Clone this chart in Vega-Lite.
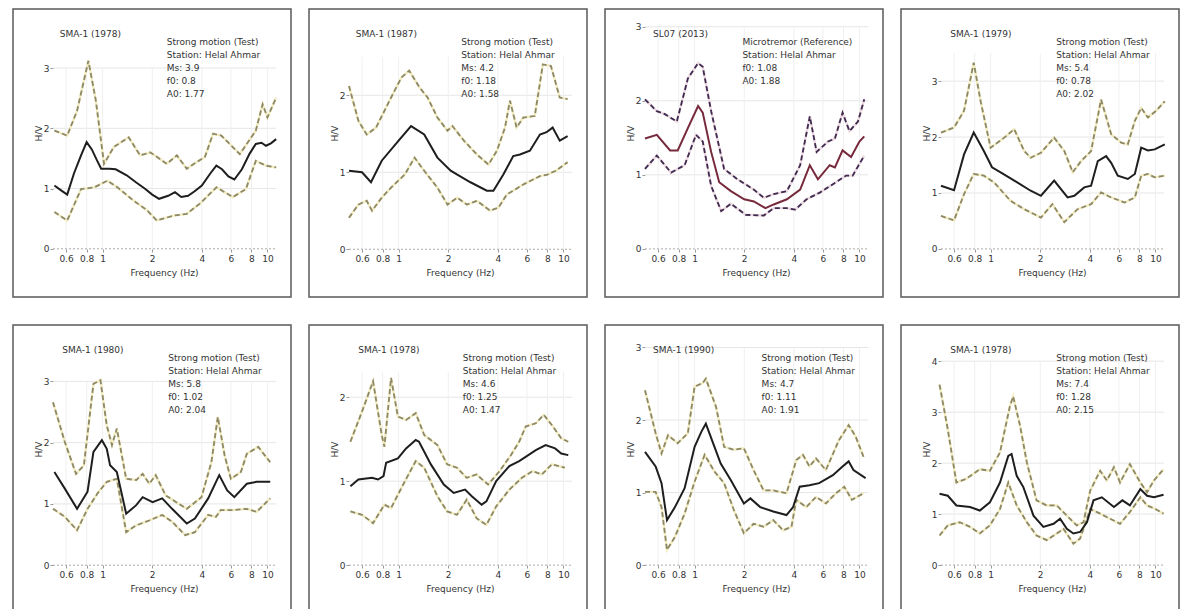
{
"$schema":"https://vega.github.io/schema/vega-lite/v6.json",
"background":"white",
"padding":{"left":12,"top":8,"right":0,"bottom":0},
"autosize":{"type":"pad"},
"config":{
 "font":"DejaVu Sans",
 "view":{"stroke":"#5a5a5a","strokeWidth":1.5},
 "axis":{"domain":false,"grid":false,"tickSize":3,"tickColor":"#999","labelFontSize":9,"labelColor":"#333","titleFontSize":9,"titleFontWeight":"normal","titleColor":"#333","labelOverlap":false,"labelFlush":false},
 "axisX":{"offset":-48,"labelPadding":2,"titlePadding":5,"titleX":151},
 "axisY":{"offset":-40,"labelPadding":1,"titlePadding":0,"titleY":124},
 "text":{"fontSize":9,"color":"#333","align":"left"}
},
"columns":4,
"spacing":{"row":26,"column":16},
"datasets":{
"p1":[
{"f":0.51,"v":1.05,"s":"m"},{"f":0.56,"v":0.97,"s":"m"},{"f":0.61,"v":0.90,"s":"m"},{"f":0.67,"v":1.25,"s":"m"},{"f":0.74,"v":1.55,"s":"m"},{"f":0.80,"v":1.77,"s":"m"},{"f":0.86,"v":1.65,"s":"m"},{"f":0.92,"v":1.48,"s":"m"},{"f":0.98,"v":1.33,"s":"m"},{"f":1.1,"v":1.33,"s":"m"},{"f":1.2,"v":1.32,"s":"m"},{"f":1.4,"v":1.22,"s":"m"},{"f":1.6,"v":1.10,"s":"m"},{"f":1.8,"v":1.00,"s":"m"},{"f":2.0,"v":0.90,"s":"m"},{"f":2.2,"v":0.83,"s":"m"},{"f":2.5,"v":0.88,"s":"m"},{"f":2.75,"v":0.94,"s":"m"},{"f":3.0,"v":0.86,"s":"m"},{"f":3.3,"v":0.88,"s":"m"},{"f":3.6,"v":0.95,"s":"m"},{"f":4.0,"v":1.05,"s":"m"},{"f":4.5,"v":1.25,"s":"m"},{"f":4.9,"v":1.38,"s":"m"},{"f":5.3,"v":1.32,"s":"m"},{"f":5.8,"v":1.20,"s":"m"},{"f":6.3,"v":1.15,"s":"m"},{"f":7.0,"v":1.32,"s":"m"},{"f":7.8,"v":1.58,"s":"m"},{"f":8.5,"v":1.74,"s":"m"},{"f":9.2,"v":1.76,"s":"m"},{"f":9.8,"v":1.71,"s":"m"},{"f":10.5,"v":1.75,"s":"m"},{"f":11.3,"v":1.82,"s":"m"},
{"f":0.51,"v":1.96,"s":"u"},{"f":0.61,"v":1.88,"s":"u"},{"f":0.70,"v":2.29,"s":"u"},{"f":0.82,"v":3.12,"s":"u"},{"f":0.91,"v":2.46,"s":"u"},{"f":1.02,"v":1.41,"s":"u"},{"f":1.17,"v":1.69,"s":"u"},{"f":1.44,"v":1.85,"s":"u"},{"f":1.69,"v":1.55,"s":"u"},{"f":1.95,"v":1.60,"s":"u"},{"f":2.45,"v":1.41,"s":"u"},{"f":2.82,"v":1.55,"s":"u"},{"f":3.24,"v":1.33,"s":"u"},{"f":3.72,"v":1.44,"s":"u"},{"f":4.17,"v":1.52,"s":"u"},{"f":4.68,"v":1.91,"s":"u"},{"f":5.25,"v":1.88,"s":"u"},{"f":6.8,"v":1.57,"s":"u"},{"f":8.5,"v":1.96,"s":"u"},{"f":9.35,"v":2.40,"s":"u"},{"f":10.0,"v":2.18,"s":"u"},{"f":11.3,"v":2.51,"s":"u"},
{"f":0.51,"v":0.61,"s":"l"},{"f":0.61,"v":0.47,"s":"l"},{"f":0.74,"v":0.99,"s":"l"},{"f":0.89,"v":1.02,"s":"l"},{"f":1.07,"v":1.13,"s":"l"},{"f":1.23,"v":1.02,"s":"l"},{"f":1.54,"v":0.80,"s":"l"},{"f":1.86,"v":0.64,"s":"l"},{"f":2.13,"v":0.47,"s":"l"},{"f":2.69,"v":0.55,"s":"l"},{"f":3.24,"v":0.58,"s":"l"},{"f":3.89,"v":0.75,"s":"l"},{"f":4.91,"v":1.02,"s":"l"},{"f":6.17,"v":0.86,"s":"l"},{"f":7.4,"v":0.99,"s":"l"},{"f":8.5,"v":1.46,"s":"l"},{"f":9.8,"v":1.38,"s":"l"},{"f":11.3,"v":1.35,"s":"l"}
],
"p2":[
{"f":0.50,"v":1.02,"s":"m"},{"f":0.60,"v":1.0,"s":"m"},{"f":0.68,"v":0.87,"s":"m"},{"f":0.79,"v":1.15,"s":"m"},{"f":1.0,"v":1.41,"s":"m"},{"f":1.19,"v":1.60,"s":"m"},{"f":1.43,"v":1.49,"s":"m"},{"f":1.72,"v":1.19,"s":"m"},{"f":2.07,"v":1.02,"s":"m"},{"f":2.27,"v":0.97,"s":"m"},{"f":2.73,"v":0.87,"s":"m"},{"f":3.43,"v":0.76,"s":"m"},{"f":3.76,"v":0.76,"s":"m"},{"f":4.32,"v":0.97,"s":"m"},{"f":4.96,"v":1.21,"s":"m"},{"f":5.45,"v":1.23,"s":"m"},{"f":6.26,"v":1.28,"s":"m"},{"f":7.2,"v":1.49,"s":"m"},{"f":7.9,"v":1.52,"s":"m"},{"f":8.6,"v":1.58,"s":"m"},{"f":9.5,"v":1.41,"s":"m"},{"f":10.6,"v":1.47,"s":"m"},
{"f":0.50,"v":2.12,"s":"u"},{"f":0.57,"v":1.67,"s":"u"},{"f":0.64,"v":1.49,"s":"u"},{"f":0.73,"v":1.58,"s":"u"},{"f":0.90,"v":1.97,"s":"u"},{"f":1.04,"v":2.23,"s":"u"},{"f":1.16,"v":2.32,"s":"u"},{"f":1.34,"v":2.10,"s":"u"},{"f":1.50,"v":1.97,"s":"u"},{"f":1.72,"v":1.71,"s":"u"},{"f":1.98,"v":1.54,"s":"u"},{"f":2.12,"v":1.60,"s":"u"},{"f":2.49,"v":1.41,"s":"u"},{"f":2.99,"v":1.23,"s":"u"},{"f":3.51,"v":1.10,"s":"u"},{"f":3.95,"v":1.28,"s":"u"},{"f":4.42,"v":1.58,"s":"u"},{"f":4.74,"v":1.93,"s":"u"},{"f":5.2,"v":1.58,"s":"u"},{"f":5.7,"v":1.71,"s":"u"},{"f":6.7,"v":1.73,"s":"u"},{"f":7.5,"v":2.40,"s":"u"},{"f":8.4,"v":2.38,"s":"u"},{"f":9.5,"v":1.97,"s":"u"},{"f":10.6,"v":1.95,"s":"u"},
{"f":0.50,"v":0.41,"s":"l"},{"f":0.57,"v":0.58,"s":"l"},{"f":0.64,"v":0.63,"s":"l"},{"f":0.69,"v":0.50,"s":"l"},{"f":0.79,"v":0.67,"s":"l"},{"f":0.90,"v":0.80,"s":"l"},{"f":1.09,"v":0.97,"s":"l"},{"f":1.25,"v":1.19,"s":"l"},{"f":1.43,"v":1.02,"s":"l"},{"f":1.72,"v":0.80,"s":"l"},{"f":1.98,"v":0.58,"s":"l"},{"f":2.27,"v":0.67,"s":"l"},{"f":2.60,"v":0.58,"s":"l"},{"f":2.99,"v":0.63,"s":"l"},{"f":3.59,"v":0.50,"s":"l"},{"f":4.03,"v":0.54,"s":"l"},{"f":4.53,"v":0.71,"s":"l"},{"f":5.7,"v":0.84,"s":"l"},{"f":7.2,"v":0.95,"s":"l"},{"f":8.0,"v":0.97,"s":"l"},{"f":9.0,"v":1.02,"s":"l"},{"f":10.6,"v":1.13,"s":"l"}
],
"p3":[
{"f":0.50,"v":1.49,"s":"m"},{"f":0.59,"v":1.54,"s":"m"},{"f":0.71,"v":1.33,"s":"m"},{"f":0.79,"v":1.33,"s":"m"},{"f":0.91,"v":1.63,"s":"m"},{"f":1.05,"v":1.93,"s":"m"},{"f":1.12,"v":1.84,"s":"m"},{"f":1.26,"v":1.31,"s":"m"},{"f":1.41,"v":0.90,"s":"m"},{"f":1.66,"v":0.78,"s":"m"},{"f":2.0,"v":0.67,"s":"m"},{"f":2.29,"v":0.64,"s":"m"},{"f":2.69,"v":0.55,"s":"m"},{"f":3.02,"v":0.60,"s":"m"},{"f":3.63,"v":0.67,"s":"m"},{"f":4.37,"v":0.80,"s":"m"},{"f":5.0,"v":1.13,"s":"m"},{"f":5.6,"v":0.94,"s":"m"},{"f":6.6,"v":1.13,"s":"m"},{"f":7.1,"v":1.10,"s":"m"},{"f":7.9,"v":1.33,"s":"m"},{"f":8.9,"v":1.24,"s":"m"},{"f":10.0,"v":1.45,"s":"m"},{"f":10.7,"v":1.52,"s":"m"},
{"f":0.50,"v":2.02,"s":"u"},{"f":0.59,"v":1.86,"s":"u"},{"f":0.66,"v":1.82,"s":"u"},{"f":0.78,"v":1.72,"s":"u"},{"f":0.91,"v":2.30,"s":"u"},{"f":1.05,"v":2.51,"s":"u"},{"f":1.12,"v":2.46,"s":"u"},{"f":1.26,"v":1.86,"s":"u"},{"f":1.51,"v":1.08,"s":"u"},{"f":1.82,"v":0.94,"s":"u"},{"f":2.29,"v":0.80,"s":"u"},{"f":2.63,"v":0.69,"s":"u"},{"f":3.02,"v":0.74,"s":"u"},{"f":3.63,"v":0.78,"s":"u"},{"f":4.37,"v":1.13,"s":"u"},{"f":5.0,"v":1.79,"s":"u"},{"f":5.5,"v":1.31,"s":"u"},{"f":6.45,"v":1.45,"s":"u"},{"f":7.1,"v":1.49,"s":"u"},{"f":7.9,"v":1.84,"s":"u"},{"f":8.7,"v":1.59,"s":"u"},{"f":9.8,"v":1.72,"s":"u"},{"f":10.7,"v":2.02,"s":"u"},
{"f":0.50,"v":1.08,"s":"l"},{"f":0.59,"v":1.26,"s":"l"},{"f":0.72,"v":1.03,"s":"l"},{"f":0.87,"v":1.13,"s":"l"},{"f":1.02,"v":1.54,"s":"l"},{"f":1.12,"v":1.45,"s":"l"},{"f":1.26,"v":0.85,"s":"l"},{"f":1.45,"v":0.51,"s":"l"},{"f":1.66,"v":0.61,"s":"l"},{"f":2.04,"v":0.46,"s":"l"},{"f":2.63,"v":0.45,"s":"l"},{"f":3.02,"v":0.55,"s":"l"},{"f":3.63,"v":0.55,"s":"l"},{"f":4.07,"v":0.53,"s":"l"},{"f":4.78,"v":0.67,"s":"l"},{"f":5.75,"v":0.76,"s":"l"},{"f":7.2,"v":0.90,"s":"l"},{"f":8.3,"v":0.99,"s":"l"},{"f":9.1,"v":0.99,"s":"l"},{"f":10.7,"v":1.26,"s":"l"}
],
"p4":[
{"f":0.50,"v":1.13,"s":"m"},{"f":0.60,"v":1.05,"s":"m"},{"f":0.69,"v":1.69,"s":"m"},{"f":0.79,"v":2.08,"s":"m"},{"f":0.91,"v":1.75,"s":"m"},{"f":1.02,"v":1.46,"s":"m"},{"f":1.15,"v":1.37,"s":"m"},{"f":1.45,"v":1.19,"s":"m"},{"f":1.75,"v":1.04,"s":"m"},{"f":2.02,"v":0.95,"s":"m"},{"f":2.43,"v":1.22,"s":"m"},{"f":2.93,"v":0.92,"s":"m"},{"f":3.22,"v":0.95,"s":"m"},{"f":3.70,"v":1.10,"s":"m"},{"f":4.07,"v":1.13,"s":"m"},{"f":4.47,"v":1.57,"s":"m"},{"f":5.02,"v":1.66,"s":"m"},{"f":5.39,"v":1.54,"s":"m"},{"f":5.91,"v":1.31,"s":"m"},{"f":6.8,"v":1.25,"s":"m"},{"f":7.5,"v":1.34,"s":"m"},{"f":8.2,"v":1.81,"s":"m"},{"f":9.0,"v":1.76,"s":"m"},{"f":9.9,"v":1.78,"s":"m"},{"f":11.4,"v":1.87,"s":"m"},
{"f":0.50,"v":2.08,"s":"u"},{"f":0.60,"v":2.17,"s":"u"},{"f":0.69,"v":2.47,"s":"u"},{"f":0.79,"v":3.33,"s":"u"},{"f":0.87,"v":2.64,"s":"u"},{"f":1.0,"v":1.81,"s":"u"},{"f":1.21,"v":1.99,"s":"u"},{"f":1.39,"v":2.14,"s":"u"},{"f":1.60,"v":1.75,"s":"u"},{"f":1.75,"v":1.63,"s":"u"},{"f":2.02,"v":1.72,"s":"u"},{"f":2.43,"v":1.99,"s":"u"},{"f":2.80,"v":1.75,"s":"u"},{"f":3.15,"v":1.37,"s":"u"},{"f":3.54,"v":1.57,"s":"u"},{"f":4.07,"v":1.75,"s":"u"},{"f":4.68,"v":2.67,"s":"u"},{"f":5.39,"v":2.05,"s":"u"},{"f":6.2,"v":1.90,"s":"u"},{"f":6.8,"v":1.87,"s":"u"},{"f":7.5,"v":2.29,"s":"u"},{"f":8.2,"v":2.52,"s":"u"},{"f":9.0,"v":2.35,"s":"u"},{"f":10.1,"v":2.47,"s":"u"},{"f":11.4,"v":2.64,"s":"u"},
{"f":0.50,"v":0.59,"s":"l"},{"f":0.60,"v":0.51,"s":"l"},{"f":0.69,"v":0.98,"s":"l"},{"f":0.79,"v":1.34,"s":"l"},{"f":0.91,"v":1.31,"s":"l"},{"f":1.05,"v":1.19,"s":"l"},{"f":1.32,"v":0.86,"s":"l"},{"f":1.60,"v":0.71,"s":"l"},{"f":2.02,"v":0.56,"s":"l"},{"f":2.37,"v":0.80,"s":"l"},{"f":2.80,"v":0.48,"s":"l"},{"f":3.37,"v":0.71,"s":"l"},{"f":4.07,"v":0.80,"s":"l"},{"f":4.68,"v":1.01,"s":"l"},{"f":5.39,"v":0.92,"s":"l"},{"f":6.5,"v":0.83,"s":"l"},{"f":7.5,"v":0.92,"s":"l"},{"f":8.2,"v":1.31,"s":"l"},{"f":9.0,"v":1.34,"s":"l"},{"f":9.9,"v":1.28,"s":"l"},{"f":11.4,"v":1.31,"s":"l"}
],
"p5":[
{"f":0.51,"v":1.52,"s":"m"},{"f":0.59,"v":1.25,"s":"m"},{"f":0.70,"v":0.92,"s":"m"},{"f":0.81,"v":1.20,"s":"m"},{"f":0.88,"v":1.85,"s":"m"},{"f":0.99,"v":2.04,"s":"m"},{"f":1.06,"v":1.90,"s":"m"},{"f":1.11,"v":1.63,"s":"m"},{"f":1.22,"v":1.52,"s":"m"},{"f":1.39,"v":0.84,"s":"m"},{"f":1.60,"v":0.98,"s":"m"},{"f":1.75,"v":1.11,"s":"m"},{"f":2.01,"v":1.03,"s":"m"},{"f":2.30,"v":1.09,"s":"m"},{"f":2.64,"v":0.92,"s":"m"},{"f":3.24,"v":0.68,"s":"m"},{"f":3.63,"v":0.76,"s":"m"},{"f":4.37,"v":1.09,"s":"m"},{"f":5.1,"v":1.47,"s":"m"},{"f":5.7,"v":1.22,"s":"m"},{"f":6.3,"v":1.11,"s":"m"},{"f":7.5,"v":1.33,"s":"m"},{"f":8.6,"v":1.36,"s":"m"},{"f":10.4,"v":1.36,"s":"m"},
{"f":0.50,"v":2.66,"s":"u"},{"f":0.59,"v":2.01,"s":"u"},{"f":0.69,"v":1.49,"s":"u"},{"f":0.77,"v":1.63,"s":"u"},{"f":0.88,"v":2.96,"s":"u"},{"f":0.97,"v":3.02,"s":"u"},{"f":1.06,"v":2.28,"s":"u"},{"f":1.14,"v":1.96,"s":"u"},{"f":1.22,"v":2.23,"s":"u"},{"f":1.39,"v":1.41,"s":"u"},{"f":1.60,"v":1.39,"s":"u"},{"f":1.75,"v":1.49,"s":"u"},{"f":1.92,"v":1.33,"s":"u"},{"f":2.1,"v":1.47,"s":"u"},{"f":2.41,"v":1.14,"s":"u"},{"f":3.24,"v":0.92,"s":"u"},{"f":3.98,"v":1.11,"s":"u"},{"f":4.57,"v":1.68,"s":"u"},{"f":5.0,"v":2.42,"s":"u"},{"f":5.5,"v":1.79,"s":"u"},{"f":6.0,"v":1.41,"s":"u"},{"f":6.9,"v":1.52,"s":"u"},{"f":7.5,"v":1.82,"s":"u"},{"f":8.8,"v":1.93,"s":"u"},{"f":10.4,"v":1.68,"s":"u"},
{"f":0.50,"v":0.92,"s":"l"},{"f":0.59,"v":0.79,"s":"l"},{"f":0.70,"v":0.57,"s":"l"},{"f":0.81,"v":0.92,"s":"l"},{"f":0.93,"v":1.17,"s":"l"},{"f":1.06,"v":1.36,"s":"l"},{"f":1.22,"v":1.41,"s":"l"},{"f":1.39,"v":0.54,"s":"l"},{"f":1.60,"v":0.65,"s":"l"},{"f":1.92,"v":0.73,"s":"l"},{"f":2.30,"v":0.82,"s":"l"},{"f":2.64,"v":0.71,"s":"l"},{"f":3.17,"v":0.49,"s":"l"},{"f":3.63,"v":0.54,"s":"l"},{"f":4.37,"v":0.82,"s":"l"},{"f":4.88,"v":0.79,"s":"l"},{"f":5.2,"v":0.90,"s":"l"},{"f":6.3,"v":0.90,"s":"l"},{"f":7.5,"v":0.92,"s":"l"},{"f":8.6,"v":0.87,"s":"l"},{"f":10.4,"v":1.09,"s":"l"}
],
"p6":[
{"f":0.51,"v":0.94,"s":"m"},{"f":0.57,"v":1.02,"s":"m"},{"f":0.69,"v":1.04,"s":"m"},{"f":0.75,"v":1.02,"s":"m"},{"f":0.81,"v":1.06,"s":"m"},{"f":0.84,"v":1.22,"s":"m"},{"f":0.99,"v":1.27,"s":"m"},{"f":1.11,"v":1.39,"s":"m"},{"f":1.27,"v":1.49,"s":"m"},{"f":1.33,"v":1.47,"s":"m"},{"f":1.57,"v":1.20,"s":"m"},{"f":1.88,"v":0.96,"s":"m"},{"f":2.16,"v":0.86,"s":"m"},{"f":2.53,"v":0.90,"s":"m"},{"f":2.78,"v":0.82,"s":"m"},{"f":3.19,"v":0.72,"s":"m"},{"f":3.41,"v":0.76,"s":"m"},{"f":3.91,"v":1.0,"s":"m"},{"f":4.70,"v":1.18,"s":"m"},{"f":5.39,"v":1.24,"s":"m"},{"f":5.9,"v":1.29,"s":"m"},{"f":6.8,"v":1.37,"s":"m"},{"f":7.8,"v":1.43,"s":"m"},{"f":8.9,"v":1.39,"s":"m"},{"f":9.7,"v":1.33,"s":"m"},{"f":10.7,"v":1.31,"s":"m"},
{"f":0.51,"v":1.47,"s":"u"},{"f":0.60,"v":1.83,"s":"u"},{"f":0.70,"v":2.19,"s":"u"},{"f":0.79,"v":1.55,"s":"u"},{"f":0.82,"v":1.41,"s":"u"},{"f":0.90,"v":2.23,"s":"u"},{"f":0.99,"v":1.77,"s":"u"},{"f":1.11,"v":1.73,"s":"u"},{"f":1.27,"v":1.81,"s":"u"},{"f":1.43,"v":1.55,"s":"u"},{"f":1.72,"v":1.43,"s":"u"},{"f":1.97,"v":1.20,"s":"u"},{"f":2.26,"v":1.16,"s":"u"},{"f":2.59,"v":1.04,"s":"u"},{"f":2.97,"v":1.08,"s":"u"},{"f":3.49,"v":0.96,"s":"u"},{"f":4.1,"v":1.12,"s":"u"},{"f":4.80,"v":1.31,"s":"u"},{"f":5.39,"v":1.47,"s":"u"},{"f":5.9,"v":1.65,"s":"u"},{"f":6.8,"v":1.69,"s":"u"},{"f":7.6,"v":1.79,"s":"u"},{"f":8.5,"v":1.67,"s":"u"},{"f":9.7,"v":1.51,"s":"u"},{"f":10.7,"v":1.47,"s":"u"},
{"f":0.51,"v":0.64,"s":"l"},{"f":0.60,"v":0.60,"s":"l"},{"f":0.70,"v":0.50,"s":"l"},{"f":0.82,"v":0.72,"s":"l"},{"f":0.90,"v":0.68,"s":"l"},{"f":1.04,"v":0.92,"s":"l"},{"f":1.27,"v":1.24,"s":"l"},{"f":1.43,"v":1.16,"s":"l"},{"f":1.72,"v":0.82,"s":"l"},{"f":1.97,"v":0.64,"s":"l"},{"f":2.26,"v":0.60,"s":"l"},{"f":2.59,"v":0.78,"s":"l"},{"f":2.97,"v":0.56,"s":"l"},{"f":3.41,"v":0.48,"s":"l"},{"f":3.91,"v":0.70,"s":"l"},{"f":4.70,"v":0.90,"s":"l"},{"f":5.6,"v":1.04,"s":"l"},{"f":6.5,"v":1.12,"s":"l"},{"f":7.4,"v":1.08,"s":"l"},{"f":8.5,"v":1.20,"s":"l"},{"f":10.2,"v":1.16,"s":"l"}
],
"p7":[
{"f":0.50,"v":1.56,"s":"m"},{"f":0.58,"v":1.36,"s":"m"},{"f":0.63,"v":1.13,"s":"m"},{"f":0.68,"v":0.62,"s":"m"},{"f":0.76,"v":0.80,"s":"m"},{"f":0.87,"v":1.06,"s":"m"},{"f":1.0,"v":1.63,"s":"m"},{"f":1.10,"v":1.84,"s":"m"},{"f":1.17,"v":1.95,"s":"m"},{"f":1.32,"v":1.63,"s":"m"},{"f":1.44,"v":1.40,"s":"m"},{"f":1.66,"v":1.17,"s":"m"},{"f":1.99,"v":0.85,"s":"m"},{"f":2.18,"v":0.92,"s":"m"},{"f":2.50,"v":0.80,"s":"m"},{"f":3.0,"v":0.74,"s":"m"},{"f":3.61,"v":0.69,"s":"m"},{"f":3.96,"v":0.80,"s":"m"},{"f":4.34,"v":1.08,"s":"m"},{"f":4.98,"v":1.10,"s":"m"},{"f":5.7,"v":1.13,"s":"m"},{"f":6.9,"v":1.24,"s":"m"},{"f":7.9,"v":1.36,"s":"m"},{"f":8.6,"v":1.43,"s":"m"},{"f":9.2,"v":1.31,"s":"m"},{"f":10.9,"v":1.20,"s":"m"},
{"f":0.50,"v":2.41,"s":"u"},{"f":0.58,"v":1.82,"s":"u"},{"f":0.63,"v":1.54,"s":"u"},{"f":0.69,"v":1.79,"s":"u"},{"f":0.79,"v":1.68,"s":"u"},{"f":0.91,"v":1.82,"s":"u"},{"f":1.0,"v":2.46,"s":"u"},{"f":1.12,"v":2.51,"s":"u"},{"f":1.17,"v":2.57,"s":"u"},{"f":1.35,"v":2.18,"s":"u"},{"f":1.51,"v":1.63,"s":"u"},{"f":1.73,"v":1.59,"s":"u"},{"f":1.99,"v":1.61,"s":"u"},{"f":2.28,"v":1.31,"s":"u"},{"f":2.62,"v":1.03,"s":"u"},{"f":3.0,"v":1.03,"s":"u"},{"f":3.61,"v":0.99,"s":"u"},{"f":4.14,"v":1.45,"s":"u"},{"f":4.54,"v":1.52,"s":"u"},{"f":4.98,"v":1.36,"s":"u"},{"f":5.45,"v":1.47,"s":"u"},{"f":6.26,"v":1.31,"s":"u"},{"f":7.5,"v":1.72,"s":"u"},{"f":8.6,"v":1.93,"s":"u"},{"f":9.5,"v":1.77,"s":"u"},{"f":10.6,"v":1.49,"s":"u"},
{"f":0.50,"v":1.01,"s":"l"},{"f":0.58,"v":1.01,"s":"l"},{"f":0.63,"v":0.80,"s":"l"},{"f":0.68,"v":0.21,"s":"l"},{"f":0.76,"v":0.39,"s":"l"},{"f":0.87,"v":0.71,"s":"l"},{"f":1.0,"v":1.15,"s":"l"},{"f":1.15,"v":1.52,"s":"l"},{"f":1.32,"v":1.29,"s":"l"},{"f":1.51,"v":1.13,"s":"l"},{"f":1.73,"v":0.76,"s":"l"},{"f":1.99,"v":0.44,"s":"l"},{"f":2.28,"v":0.57,"s":"l"},{"f":2.62,"v":0.53,"s":"l"},{"f":3.0,"v":0.62,"s":"l"},{"f":3.45,"v":0.48,"s":"l"},{"f":3.87,"v":0.53,"s":"l"},{"f":4.14,"v":0.90,"s":"l"},{"f":4.76,"v":0.80,"s":"l"},{"f":5.45,"v":0.94,"s":"l"},{"f":6.26,"v":0.85,"s":"l"},{"f":7.2,"v":0.99,"s":"l"},{"f":8.1,"v":1.08,"s":"l"},{"f":9.0,"v":0.90,"s":"l"},{"f":10.6,"v":0.99,"s":"l"}
],
"p8":[
{"f":0.49,"v":1.40,"s":"m"},{"f":0.55,"v":1.36,"s":"m"},{"f":0.62,"v":1.17,"s":"m"},{"f":0.75,"v":1.14,"s":"m"},{"f":0.86,"v":1.07,"s":"m"},{"f":0.99,"v":1.23,"s":"m"},{"f":1.14,"v":1.62,"s":"m"},{"f":1.28,"v":2.14,"s":"m"},{"f":1.34,"v":2.18,"s":"m"},{"f":1.44,"v":1.75,"s":"m"},{"f":1.58,"v":1.53,"s":"m"},{"f":1.82,"v":0.97,"s":"m"},{"f":2.09,"v":0.75,"s":"m"},{"f":2.41,"v":0.81,"s":"m"},{"f":2.64,"v":0.91,"s":"m"},{"f":2.90,"v":0.71,"s":"m"},{"f":3.18,"v":0.62,"s":"m"},{"f":3.49,"v":0.65,"s":"m"},{"f":3.84,"v":0.84,"s":"m"},{"f":4.21,"v":1.27,"s":"m"},{"f":4.73,"v":1.33,"s":"m"},{"f":5.6,"v":1.14,"s":"m"},{"f":6.3,"v":1.27,"s":"m"},{"f":7.0,"v":1.17,"s":"m"},{"f":8.1,"v":1.49,"s":"m"},{"f":8.9,"v":1.36,"s":"m"},{"f":9.8,"v":1.33,"s":"m"},{"f":11.2,"v":1.38,"s":"m"},
{"f":0.49,"v":3.54,"s":"u"},{"f":0.55,"v":2.66,"s":"u"},{"f":0.62,"v":1.62,"s":"u"},{"f":0.71,"v":1.69,"s":"u"},{"f":0.86,"v":1.88,"s":"u"},{"f":0.99,"v":1.85,"s":"u"},{"f":1.14,"v":2.21,"s":"u"},{"f":1.31,"v":3.12,"s":"u"},{"f":1.37,"v":3.31,"s":"u"},{"f":1.51,"v":2.73,"s":"u"},{"f":1.66,"v":2.01,"s":"u"},{"f":1.90,"v":1.27,"s":"u"},{"f":2.19,"v":1.17,"s":"u"},{"f":2.52,"v":1.17,"s":"u"},{"f":2.90,"v":0.97,"s":"u"},{"f":3.33,"v":0.78,"s":"u"},{"f":3.66,"v":0.84,"s":"u"},{"f":4.02,"v":1.46,"s":"u"},{"f":4.62,"v":1.85,"s":"u"},{"f":5.07,"v":1.66,"s":"u"},{"f":5.6,"v":1.92,"s":"u"},{"f":6.1,"v":1.62,"s":"u"},{"f":7.0,"v":1.98,"s":"u"},{"f":8.1,"v":1.62,"s":"u"},{"f":8.9,"v":1.43,"s":"u"},{"f":9.8,"v":1.66,"s":"u"},{"f":11.2,"v":1.88,"s":"u"},
{"f":0.49,"v":0.58,"s":"l"},{"f":0.55,"v":0.78,"s":"l"},{"f":0.65,"v":0.84,"s":"l"},{"f":0.75,"v":0.75,"s":"l"},{"f":0.86,"v":0.62,"s":"l"},{"f":0.99,"v":0.78,"s":"l"},{"f":1.14,"v":1.10,"s":"l"},{"f":1.28,"v":1.62,"s":"l"},{"f":1.44,"v":1.17,"s":"l"},{"f":1.66,"v":0.84,"s":"l"},{"f":1.90,"v":0.58,"s":"l"},{"f":2.19,"v":0.49,"s":"l"},{"f":2.52,"v":0.62,"s":"l"},{"f":2.77,"v":0.71,"s":"l"},{"f":3.18,"v":0.42,"s":"l"},{"f":3.49,"v":0.52,"s":"l"},{"f":4.02,"v":1.10,"s":"l"},{"f":4.62,"v":1.01,"s":"l"},{"f":5.3,"v":0.91,"s":"l"},{"f":6.1,"v":0.81,"s":"l"},{"f":7.0,"v":1.04,"s":"l"},{"f":8.1,"v":1.33,"s":"l"},{"f":8.9,"v":1.17,"s":"l"},{"f":10.0,"v":1.10,"s":"l"},{"f":11.2,"v":1.01,"s":"l"}
]
},
"concat":[
{"width":278,"height":288,"data":{"name":"p1"},"layer":[
 {"data":{"values":[{"g":1},{"g":2},{"g":3}]},"mark":{"type":"rule","color":"#e6e6e6","strokeWidth":1},"encoding":{"y":{"field":"g","type":"quantitative","scale":{"domain":[-0.80,3.98],"nice":false,"zero":false},"axis":{"values":[0,1,2,3],"format":"d","title":"H/V"}},"x":{"datum":0.5,"type":"quantitative","scale":{"type":"log","domain":[0.286,13.9],"nice":false}},"x2":{"datum":11.3}}},
 {"data":{"values":[{"gx":0.6},{"gx":0.8},{"gx":1},{"gx":2},{"gx":4},{"gx":6},{"gx":8},{"gx":10}]},"mark":{"type":"rule","color":"#efefef","strokeWidth":1},"encoding":{"x":{"field":"gx","type":"quantitative","scale":{"type":"log","domain":[0.286,13.9],"nice":false},"axis":{"values":[0.6,0.8,1,2,4,6,8,10],"format":"~g","title":"Frequency (Hz)"}},"y":{"datum":0,"type":"quantitative","scale":{"domain":[-0.80,3.98],"nice":false,"zero":false}},"y2":{"datum":3}}},
 {"data":{"values":[{"g":0}]},"mark":{"type":"rule","color":"#aaaaaa","strokeWidth":1,"strokeDash":[2,2]},"encoding":{"y":{"field":"g","type":"quantitative","scale":{"domain":[-0.80,3.98],"nice":false,"zero":false}},"x":{"datum":0.5,"type":"quantitative","scale":{"type":"log","domain":[0.286,13.9],"nice":false}},"x2":{"datum":11.3}}},
 {"transform":[{"filter":"datum.s!='m'"}],"mark":{"type":"line","color":"#f2ebc0","strokeWidth":2.4},"encoding":{"x":{"field":"f","type":"quantitative","scale":{"type":"log","domain":[0.286,13.9],"nice":false}},"y":{"field":"v","type":"quantitative","scale":{"domain":[-0.80,3.98],"nice":false,"zero":false}},"detail":{"field":"s"}}},
 {"transform":[{"filter":"datum.s!='m'"}],"mark":{"type":"line","color":"#8c8868","strokeWidth":1.8,"strokeDash":[5,3]},"encoding":{"x":{"field":"f","type":"quantitative","scale":{"type":"log","domain":[0.286,13.9],"nice":false}},"y":{"field":"v","type":"quantitative","scale":{"domain":[-0.80,3.98],"nice":false,"zero":false}},"detail":{"field":"s"}}},
 {"transform":[{"filter":"datum.s=='m'"}],"mark":{"type":"line","color":"#1e1e1e","strokeWidth":2},"encoding":{"x":{"field":"f","type":"quantitative","scale":{"type":"log","domain":[0.286,13.9],"nice":false}},"y":{"field":"v","type":"quantitative","scale":{"domain":[-0.80,3.98],"nice":false,"zero":false}}}},
 {"data":{"values":[{}]},"mark":{"type":"text","baseline":"middle"},"encoding":{"x":{"datum":0.55,"type":"quantitative","scale":{"type":"log","domain":[0.286,13.9],"nice":false}},"y":{"datum":3.565,"type":"quantitative","scale":{"domain":[-0.80,3.98],"nice":false,"zero":false}},"text":{"value":"SMA-1 (1978)"}}},
 {"data":{"values":[{}]},"mark":{"type":"text","baseline":"top","lineHeight":13},"encoding":{"x":{"datum":2.45,"type":"quantitative","scale":{"type":"log","domain":[0.286,13.9],"nice":false}},"y":{"datum":3.499,"type":"quantitative","scale":{"domain":[-0.80,3.98],"nice":false,"zero":false}},"text":{"value":["Strong motion (Test)","Station: Helal Ahmar","Ms: 3.9","f0: 0.8","A0: 1.77"]}}}
]},
{"width":278,"height":288,"data":{"name":"p2"},"layer":[
 {"data":{"values":[{"g":1},{"g":2}]},"mark":{"type":"rule","color":"#e6e6e6","strokeWidth":1},"encoding":{"y":{"field":"g","type":"quantitative","scale":{"domain":[-0.62,3.12],"nice":false,"zero":false},"axis":{"values":[0,1,2],"format":"d","title":"H/V"}},"x":{"datum":0.5,"type":"quantitative","scale":{"type":"log","domain":[0.286,13.9],"nice":false}},"x2":{"datum":11.3}}},
 {"data":{"values":[{"gx":0.6},{"gx":0.8},{"gx":1},{"gx":2},{"gx":4},{"gx":6},{"gx":8},{"gx":10}]},"mark":{"type":"rule","color":"#efefef","strokeWidth":1},"encoding":{"x":{"field":"gx","type":"quantitative","scale":{"type":"log","domain":[0.286,13.9],"nice":false},"axis":{"values":[0.6,0.8,1,2,4,6,8,10],"format":"~g","title":"Frequency (Hz)"}},"y":{"datum":0,"type":"quantitative","scale":{"domain":[-0.62,3.12],"nice":false,"zero":false}},"y2":{"datum":2.5}}},
 {"data":{"values":[{"g":0}]},"mark":{"type":"rule","color":"#aaaaaa","strokeWidth":1,"strokeDash":[2,2]},"encoding":{"y":{"field":"g","type":"quantitative","scale":{"domain":[-0.62,3.12],"nice":false,"zero":false}},"x":{"datum":0.5,"type":"quantitative","scale":{"type":"log","domain":[0.286,13.9],"nice":false}},"x2":{"datum":11.3}}},
 {"transform":[{"filter":"datum.s!='m'"}],"mark":{"type":"line","color":"#f2ebc0","strokeWidth":2.4},"encoding":{"x":{"field":"f","type":"quantitative","scale":{"type":"log","domain":[0.286,13.9],"nice":false}},"y":{"field":"v","type":"quantitative","scale":{"domain":[-0.62,3.12],"nice":false,"zero":false}},"detail":{"field":"s"}}},
 {"transform":[{"filter":"datum.s!='m'"}],"mark":{"type":"line","color":"#8c8868","strokeWidth":1.8,"strokeDash":[5,3]},"encoding":{"x":{"field":"f","type":"quantitative","scale":{"type":"log","domain":[0.286,13.9],"nice":false}},"y":{"field":"v","type":"quantitative","scale":{"domain":[-0.62,3.12],"nice":false,"zero":false}},"detail":{"field":"s"}}},
 {"transform":[{"filter":"datum.s=='m'"}],"mark":{"type":"line","color":"#1e1e1e","strokeWidth":2},"encoding":{"x":{"field":"f","type":"quantitative","scale":{"type":"log","domain":[0.286,13.9],"nice":false}},"y":{"field":"v","type":"quantitative","scale":{"domain":[-0.62,3.12],"nice":false,"zero":false}}}},
 {"data":{"values":[{}]},"mark":{"type":"text","baseline":"middle"},"encoding":{"x":{"datum":0.55,"type":"quantitative","scale":{"type":"log","domain":[0.286,13.9],"nice":false}},"y":{"datum":2.792,"type":"quantitative","scale":{"domain":[-0.62,3.12],"nice":false,"zero":false}},"text":{"value":"SMA-1 (1987)"}}},
 {"data":{"values":[{}]},"mark":{"type":"text","baseline":"top","lineHeight":13},"encoding":{"x":{"datum":2.4,"type":"quantitative","scale":{"type":"log","domain":[0.286,13.9],"nice":false}},"y":{"datum":2.740,"type":"quantitative","scale":{"domain":[-0.62,3.12],"nice":false,"zero":false}},"text":{"value":["Strong motion (Test)","Station: Helal Ahmar","Ms: 4.2","f0: 1.18","A0: 1.58"]}}}
]},
{"width":278,"height":288,"data":{"name":"p3"},"layer":[
 {"data":{"values":[{"g":1},{"g":2},{"g":3}]},"mark":{"type":"rule","color":"#e6e6e6","strokeWidth":1},"encoding":{"y":{"field":"g","type":"quantitative","scale":{"domain":[-0.65,3.24],"nice":false,"zero":false},"axis":{"values":[0,1,2,3],"format":"d","title":"H/V"}},"x":{"datum":0.5,"type":"quantitative","scale":{"type":"log","domain":[0.286,13.9],"nice":false}},"x2":{"datum":11.3}}},
 {"data":{"values":[{"gx":0.6},{"gx":0.8},{"gx":1},{"gx":2},{"gx":4},{"gx":6},{"gx":8},{"gx":10}]},"mark":{"type":"rule","color":"#efefef","strokeWidth":1},"encoding":{"x":{"field":"gx","type":"quantitative","scale":{"type":"log","domain":[0.286,13.9],"nice":false},"axis":{"values":[0.6,0.8,1,2,4,6,8,10],"format":"~g","title":"Frequency (Hz)"}},"y":{"datum":0,"type":"quantitative","scale":{"domain":[-0.65,3.24],"nice":false,"zero":false}},"y2":{"datum":3}}},
 {"data":{"values":[{"g":0}]},"mark":{"type":"rule","color":"#aaaaaa","strokeWidth":1,"strokeDash":[2,2]},"encoding":{"y":{"field":"g","type":"quantitative","scale":{"domain":[-0.65,3.24],"nice":false,"zero":false}},"x":{"datum":0.5,"type":"quantitative","scale":{"type":"log","domain":[0.286,13.9],"nice":false}},"x2":{"datum":11.3}}},
 {"transform":[{"filter":"datum.s!='m'"}],"mark":{"type":"line","color":"#ecd9e0","strokeWidth":2.4},"encoding":{"x":{"field":"f","type":"quantitative","scale":{"type":"log","domain":[0.286,13.9],"nice":false}},"y":{"field":"v","type":"quantitative","scale":{"domain":[-0.65,3.24],"nice":false,"zero":false}},"detail":{"field":"s"}}},
 {"transform":[{"filter":"datum.s!='m'"}],"mark":{"type":"line","color":"#3f2a50","strokeWidth":1.8,"strokeDash":[5,3]},"encoding":{"x":{"field":"f","type":"quantitative","scale":{"type":"log","domain":[0.286,13.9],"nice":false}},"y":{"field":"v","type":"quantitative","scale":{"domain":[-0.65,3.24],"nice":false,"zero":false}},"detail":{"field":"s"}}},
 {"transform":[{"filter":"datum.s=='m'"}],"mark":{"type":"line","color":"#762a3c","strokeWidth":2},"encoding":{"x":{"field":"f","type":"quantitative","scale":{"type":"log","domain":[0.286,13.9],"nice":false}},"y":{"field":"v","type":"quantitative","scale":{"domain":[-0.65,3.24],"nice":false,"zero":false}}}},
 {"data":{"values":[{}]},"mark":{"type":"text","baseline":"middle"},"encoding":{"x":{"datum":0.56,"type":"quantitative","scale":{"type":"log","domain":[0.286,13.9],"nice":false}},"y":{"datum":2.905,"type":"quantitative","scale":{"domain":[-0.65,3.24],"nice":false,"zero":false}},"text":{"value":"SL07 (2013)"}}},
 {"data":{"values":[{}]},"mark":{"type":"text","baseline":"top","lineHeight":13},"encoding":{"x":{"datum":1.95,"type":"quantitative","scale":{"type":"log","domain":[0.286,13.9],"nice":false}},"y":{"datum":2.851,"type":"quantitative","scale":{"domain":[-0.65,3.24],"nice":false,"zero":false}},"text":{"value":["Microtremor (Reference)","Station: Helal Ahmar","f0: 1.08","A0: 1.88"]}}}
]},
{"width":278,"height":288,"data":{"name":"p4"},"layer":[
 {"data":{"values":[{"g":1},{"g":2},{"g":3}]},"mark":{"type":"rule","color":"#e6e6e6","strokeWidth":1},"encoding":{"y":{"field":"g","type":"quantitative","scale":{"domain":[-0.86,4.29],"nice":false,"zero":false},"axis":{"values":[0,1,2,3],"format":"d","title":"H/V"}},"x":{"datum":0.5,"type":"quantitative","scale":{"type":"log","domain":[0.286,13.9],"nice":false}},"x2":{"datum":11.3}}},
 {"data":{"values":[{"gx":0.6},{"gx":0.8},{"gx":1},{"gx":2},{"gx":4},{"gx":6},{"gx":8},{"gx":10}]},"mark":{"type":"rule","color":"#efefef","strokeWidth":1},"encoding":{"x":{"field":"gx","type":"quantitative","scale":{"type":"log","domain":[0.286,13.9],"nice":false},"axis":{"values":[0.6,0.8,1,2,4,6,8,10],"format":"~g","title":"Frequency (Hz)"}},"y":{"datum":0,"type":"quantitative","scale":{"domain":[-0.86,4.29],"nice":false,"zero":false}},"y2":{"datum":3.5}}},
 {"data":{"values":[{"g":0}]},"mark":{"type":"rule","color":"#aaaaaa","strokeWidth":1,"strokeDash":[2,2]},"encoding":{"y":{"field":"g","type":"quantitative","scale":{"domain":[-0.86,4.29],"nice":false,"zero":false}},"x":{"datum":0.5,"type":"quantitative","scale":{"type":"log","domain":[0.286,13.9],"nice":false}},"x2":{"datum":11.3}}},
 {"transform":[{"filter":"datum.s!='m'"}],"mark":{"type":"line","color":"#f2ebc0","strokeWidth":2.4},"encoding":{"x":{"field":"f","type":"quantitative","scale":{"type":"log","domain":[0.286,13.9],"nice":false}},"y":{"field":"v","type":"quantitative","scale":{"domain":[-0.86,4.29],"nice":false,"zero":false}},"detail":{"field":"s"}}},
 {"transform":[{"filter":"datum.s!='m'"}],"mark":{"type":"line","color":"#8c8868","strokeWidth":1.8,"strokeDash":[5,3]},"encoding":{"x":{"field":"f","type":"quantitative","scale":{"type":"log","domain":[0.286,13.9],"nice":false}},"y":{"field":"v","type":"quantitative","scale":{"domain":[-0.86,4.29],"nice":false,"zero":false}},"detail":{"field":"s"}}},
 {"transform":[{"filter":"datum.s=='m'"}],"mark":{"type":"line","color":"#1e1e1e","strokeWidth":2},"encoding":{"x":{"field":"f","type":"quantitative","scale":{"type":"log","domain":[0.286,13.9],"nice":false}},"y":{"field":"v","type":"quantitative","scale":{"domain":[-0.86,4.29],"nice":false,"zero":false}}}},
 {"data":{"values":[{}]},"mark":{"type":"text","baseline":"middle"},"encoding":{"x":{"datum":0.57,"type":"quantitative","scale":{"type":"log","domain":[0.286,13.9],"nice":false}},"y":{"datum":3.840,"type":"quantitative","scale":{"domain":[-0.86,4.29],"nice":false,"zero":false}},"text":{"value":"SMA-1 (1979)"}}},
 {"data":{"values":[{}]},"mark":{"type":"text","baseline":"top","lineHeight":13},"encoding":{"x":{"datum":2.5,"type":"quantitative","scale":{"type":"log","domain":[0.286,13.9],"nice":false}},"y":{"datum":3.768,"type":"quantitative","scale":{"domain":[-0.86,4.29],"nice":false,"zero":false}},"text":{"value":["Strong motion (Test)","Station: Helal Ahmar","Ms: 5.4","f0: 0.78","A0: 2.02"]}}}
]},
{"width":278,"height":288,"data":{"name":"p5"},"layer":[
 {"data":{"values":[{"g":1},{"g":2},{"g":3}]},"mark":{"type":"rule","color":"#e6e6e6","strokeWidth":1},"encoding":{"y":{"field":"g","type":"quantitative","scale":{"domain":[-0.78,3.92],"nice":false,"zero":false},"axis":{"values":[0,1,2,3],"format":"d","title":"H/V"}},"x":{"datum":0.5,"type":"quantitative","scale":{"type":"log","domain":[0.286,13.9],"nice":false}},"x2":{"datum":11.3}}},
 {"data":{"values":[{"gx":0.6},{"gx":0.8},{"gx":1},{"gx":2},{"gx":4},{"gx":6},{"gx":8},{"gx":10}]},"mark":{"type":"rule","color":"#efefef","strokeWidth":1},"encoding":{"x":{"field":"gx","type":"quantitative","scale":{"type":"log","domain":[0.286,13.9],"nice":false},"axis":{"values":[0.6,0.8,1,2,4,6,8,10],"format":"~g","title":"Frequency (Hz)"}},"y":{"datum":0,"type":"quantitative","scale":{"domain":[-0.78,3.92],"nice":false,"zero":false}},"y2":{"datum":3}}},
 {"data":{"values":[{"g":0}]},"mark":{"type":"rule","color":"#aaaaaa","strokeWidth":1,"strokeDash":[2,2]},"encoding":{"y":{"field":"g","type":"quantitative","scale":{"domain":[-0.78,3.92],"nice":false,"zero":false}},"x":{"datum":0.5,"type":"quantitative","scale":{"type":"log","domain":[0.286,13.9],"nice":false}},"x2":{"datum":11.3}}},
 {"transform":[{"filter":"datum.s!='m'"}],"mark":{"type":"line","color":"#f2ebc0","strokeWidth":2.4},"encoding":{"x":{"field":"f","type":"quantitative","scale":{"type":"log","domain":[0.286,13.9],"nice":false}},"y":{"field":"v","type":"quantitative","scale":{"domain":[-0.78,3.92],"nice":false,"zero":false}},"detail":{"field":"s"}}},
 {"transform":[{"filter":"datum.s!='m'"}],"mark":{"type":"line","color":"#8c8868","strokeWidth":1.8,"strokeDash":[5,3]},"encoding":{"x":{"field":"f","type":"quantitative","scale":{"type":"log","domain":[0.286,13.9],"nice":false}},"y":{"field":"v","type":"quantitative","scale":{"domain":[-0.78,3.92],"nice":false,"zero":false}},"detail":{"field":"s"}}},
 {"transform":[{"filter":"datum.s=='m'"}],"mark":{"type":"line","color":"#1e1e1e","strokeWidth":2},"encoding":{"x":{"field":"f","type":"quantitative","scale":{"type":"log","domain":[0.286,13.9],"nice":false}},"y":{"field":"v","type":"quantitative","scale":{"domain":[-0.78,3.92],"nice":false,"zero":false}}}},
 {"data":{"values":[{}]},"mark":{"type":"text","baseline":"middle"},"encoding":{"x":{"datum":0.57,"type":"quantitative","scale":{"type":"log","domain":[0.286,13.9],"nice":false}},"y":{"datum":3.507,"type":"quantitative","scale":{"domain":[-0.78,3.92],"nice":false,"zero":false}},"text":{"value":"SMA-1 (1980)"}}},
 {"data":{"values":[{}]},"mark":{"type":"text","baseline":"top","lineHeight":13},"encoding":{"x":{"datum":2.5,"type":"quantitative","scale":{"type":"log","domain":[0.286,13.9],"nice":false}},"y":{"datum":3.442,"type":"quantitative","scale":{"domain":[-0.78,3.92],"nice":false,"zero":false}},"text":{"value":["Strong motion (Test)","Station: Helal Ahmar","Ms: 5.8","f0: 1.02","A0: 2.04"]}}}
]},
{"width":278,"height":288,"data":{"name":"p6"},"layer":[
 {"data":{"values":[{"g":1},{"g":2}]},"mark":{"type":"rule","color":"#e6e6e6","strokeWidth":1},"encoding":{"y":{"field":"g","type":"quantitative","scale":{"domain":[-0.57,2.86],"nice":false,"zero":false},"axis":{"values":[0,1,2],"format":"d","title":"H/V"}},"x":{"datum":0.5,"type":"quantitative","scale":{"type":"log","domain":[0.286,13.9],"nice":false}},"x2":{"datum":11.3}}},
 {"data":{"values":[{"gx":0.6},{"gx":0.8},{"gx":1},{"gx":2},{"gx":4},{"gx":6},{"gx":8},{"gx":10}]},"mark":{"type":"rule","color":"#efefef","strokeWidth":1},"encoding":{"x":{"field":"gx","type":"quantitative","scale":{"type":"log","domain":[0.286,13.9],"nice":false},"axis":{"values":[0.6,0.8,1,2,4,6,8,10],"format":"~g","title":"Frequency (Hz)"}},"y":{"datum":0,"type":"quantitative","scale":{"domain":[-0.57,2.86],"nice":false,"zero":false}},"y2":{"datum":2.3}}},
 {"data":{"values":[{"g":0}]},"mark":{"type":"rule","color":"#aaaaaa","strokeWidth":1,"strokeDash":[2,2]},"encoding":{"y":{"field":"g","type":"quantitative","scale":{"domain":[-0.57,2.86],"nice":false,"zero":false}},"x":{"datum":0.5,"type":"quantitative","scale":{"type":"log","domain":[0.286,13.9],"nice":false}},"x2":{"datum":11.3}}},
 {"transform":[{"filter":"datum.s!='m'"}],"mark":{"type":"line","color":"#f2ebc0","strokeWidth":2.4},"encoding":{"x":{"field":"f","type":"quantitative","scale":{"type":"log","domain":[0.286,13.9],"nice":false}},"y":{"field":"v","type":"quantitative","scale":{"domain":[-0.57,2.86],"nice":false,"zero":false}},"detail":{"field":"s"}}},
 {"transform":[{"filter":"datum.s!='m'"}],"mark":{"type":"line","color":"#8c8868","strokeWidth":1.8,"strokeDash":[5,3]},"encoding":{"x":{"field":"f","type":"quantitative","scale":{"type":"log","domain":[0.286,13.9],"nice":false}},"y":{"field":"v","type":"quantitative","scale":{"domain":[-0.57,2.86],"nice":false,"zero":false}},"detail":{"field":"s"}}},
 {"transform":[{"filter":"datum.s=='m'"}],"mark":{"type":"line","color":"#1e1e1e","strokeWidth":2},"encoding":{"x":{"field":"f","type":"quantitative","scale":{"type":"log","domain":[0.286,13.9],"nice":false}},"y":{"field":"v","type":"quantitative","scale":{"domain":[-0.57,2.86],"nice":false,"zero":false}}}},
 {"data":{"values":[{}]},"mark":{"type":"text","baseline":"middle"},"encoding":{"x":{"datum":0.57,"type":"quantitative","scale":{"type":"log","domain":[0.286,13.9],"nice":false}},"y":{"datum":2.559,"type":"quantitative","scale":{"domain":[-0.57,2.86],"nice":false,"zero":false}},"text":{"value":"SMA-1 (1978)"}}},
 {"data":{"values":[{}]},"mark":{"type":"text","baseline":"top","lineHeight":13},"encoding":{"x":{"datum":2.45,"type":"quantitative","scale":{"type":"log","domain":[0.286,13.9],"nice":false}},"y":{"datum":2.512,"type":"quantitative","scale":{"domain":[-0.57,2.86],"nice":false,"zero":false}},"text":{"value":["Strong motion (Test)","Station: Helal Ahmar","Ms: 4.6","f0: 1.25","A0: 1.47"]}}}
]},
{"width":278,"height":288,"data":{"name":"p7"},"layer":[
 {"data":{"values":[{"g":1},{"g":2},{"g":3}]},"mark":{"type":"rule","color":"#e6e6e6","strokeWidth":1},"encoding":{"y":{"field":"g","type":"quantitative","scale":{"domain":[-0.66,3.31],"nice":false,"zero":false},"axis":{"values":[0,1,2,3],"format":"d","title":"H/V"}},"x":{"datum":0.5,"type":"quantitative","scale":{"type":"log","domain":[0.286,13.9],"nice":false}},"x2":{"datum":11.3}}},
 {"data":{"values":[{"gx":0.6},{"gx":0.8},{"gx":1},{"gx":2},{"gx":4},{"gx":6},{"gx":8},{"gx":10}]},"mark":{"type":"rule","color":"#efefef","strokeWidth":1},"encoding":{"x":{"field":"gx","type":"quantitative","scale":{"type":"log","domain":[0.286,13.9],"nice":false},"axis":{"values":[0.6,0.8,1,2,4,6,8,10],"format":"~g","title":"Frequency (Hz)"}},"y":{"datum":0,"type":"quantitative","scale":{"domain":[-0.66,3.31],"nice":false,"zero":false}},"y2":{"datum":3}}},
 {"data":{"values":[{"g":0}]},"mark":{"type":"rule","color":"#aaaaaa","strokeWidth":1,"strokeDash":[2,2]},"encoding":{"y":{"field":"g","type":"quantitative","scale":{"domain":[-0.66,3.31],"nice":false,"zero":false}},"x":{"datum":0.5,"type":"quantitative","scale":{"type":"log","domain":[0.286,13.9],"nice":false}},"x2":{"datum":11.3}}},
 {"transform":[{"filter":"datum.s!='m'"}],"mark":{"type":"line","color":"#f2ebc0","strokeWidth":2.4},"encoding":{"x":{"field":"f","type":"quantitative","scale":{"type":"log","domain":[0.286,13.9],"nice":false}},"y":{"field":"v","type":"quantitative","scale":{"domain":[-0.66,3.31],"nice":false,"zero":false}},"detail":{"field":"s"}}},
 {"transform":[{"filter":"datum.s!='m'"}],"mark":{"type":"line","color":"#8c8868","strokeWidth":1.8,"strokeDash":[5,3]},"encoding":{"x":{"field":"f","type":"quantitative","scale":{"type":"log","domain":[0.286,13.9],"nice":false}},"y":{"field":"v","type":"quantitative","scale":{"domain":[-0.66,3.31],"nice":false,"zero":false}},"detail":{"field":"s"}}},
 {"transform":[{"filter":"datum.s=='m'"}],"mark":{"type":"line","color":"#1e1e1e","strokeWidth":2},"encoding":{"x":{"field":"f","type":"quantitative","scale":{"type":"log","domain":[0.286,13.9],"nice":false}},"y":{"field":"v","type":"quantitative","scale":{"domain":[-0.66,3.31],"nice":false,"zero":false}}}},
 {"data":{"values":[{}]},"mark":{"type":"text","baseline":"middle"},"encoding":{"x":{"datum":0.56,"type":"quantitative","scale":{"type":"log","domain":[0.286,13.9],"nice":false}},"y":{"datum":2.965,"type":"quantitative","scale":{"domain":[-0.66,3.31],"nice":false,"zero":false}},"text":{"value":"SMA-1 (1990)"}}},
 {"data":{"values":[{}]},"mark":{"type":"text","baseline":"top","lineHeight":13},"encoding":{"x":{"datum":2.55,"type":"quantitative","scale":{"type":"log","domain":[0.286,13.9],"nice":false}},"y":{"datum":2.910,"type":"quantitative","scale":{"domain":[-0.66,3.31],"nice":false,"zero":false}},"text":{"value":["Strong motion (Test)","Station: Helal Ahmar","Ms: 4.7","f0: 1.11","A0: 1.91"]}}}
]},
{"width":278,"height":288,"data":{"name":"p8"},"layer":[
 {"data":{"values":[{"g":1},{"g":2},{"g":3},{"g":4}]},"mark":{"type":"rule","color":"#e6e6e6","strokeWidth":1},"encoding":{"y":{"field":"g","type":"quantitative","scale":{"domain":[-0.94,4.71],"nice":false,"zero":false},"axis":{"values":[0,1,2,3,4],"format":"d","title":"H/V"}},"x":{"datum":0.5,"type":"quantitative","scale":{"type":"log","domain":[0.286,13.9],"nice":false}},"x2":{"datum":11.3}}},
 {"data":{"values":[{"gx":0.6},{"gx":0.8},{"gx":1},{"gx":2},{"gx":4},{"gx":6},{"gx":8},{"gx":10}]},"mark":{"type":"rule","color":"#efefef","strokeWidth":1},"encoding":{"x":{"field":"gx","type":"quantitative","scale":{"type":"log","domain":[0.286,13.9],"nice":false},"axis":{"values":[0.6,0.8,1,2,4,6,8,10],"format":"~g","title":"Frequency (Hz)"}},"y":{"datum":0,"type":"quantitative","scale":{"domain":[-0.94,4.71],"nice":false,"zero":false}},"y2":{"datum":4}}},
 {"data":{"values":[{"g":0}]},"mark":{"type":"rule","color":"#aaaaaa","strokeWidth":1,"strokeDash":[2,2]},"encoding":{"y":{"field":"g","type":"quantitative","scale":{"domain":[-0.94,4.71],"nice":false,"zero":false}},"x":{"datum":0.5,"type":"quantitative","scale":{"type":"log","domain":[0.286,13.9],"nice":false}},"x2":{"datum":11.3}}},
 {"transform":[{"filter":"datum.s!='m'"}],"mark":{"type":"line","color":"#f2ebc0","strokeWidth":2.4},"encoding":{"x":{"field":"f","type":"quantitative","scale":{"type":"log","domain":[0.286,13.9],"nice":false}},"y":{"field":"v","type":"quantitative","scale":{"domain":[-0.94,4.71],"nice":false,"zero":false}},"detail":{"field":"s"}}},
 {"transform":[{"filter":"datum.s!='m'"}],"mark":{"type":"line","color":"#8c8868","strokeWidth":1.8,"strokeDash":[5,3]},"encoding":{"x":{"field":"f","type":"quantitative","scale":{"type":"log","domain":[0.286,13.9],"nice":false}},"y":{"field":"v","type":"quantitative","scale":{"domain":[-0.94,4.71],"nice":false,"zero":false}},"detail":{"field":"s"}}},
 {"transform":[{"filter":"datum.s=='m'"}],"mark":{"type":"line","color":"#1e1e1e","strokeWidth":2},"encoding":{"x":{"field":"f","type":"quantitative","scale":{"type":"log","domain":[0.286,13.9],"nice":false}},"y":{"field":"v","type":"quantitative","scale":{"domain":[-0.94,4.71],"nice":false,"zero":false}}}},
 {"data":{"values":[{}]},"mark":{"type":"text","baseline":"middle"},"encoding":{"x":{"datum":0.57,"type":"quantitative","scale":{"type":"log","domain":[0.286,13.9],"nice":false}},"y":{"datum":4.216,"type":"quantitative","scale":{"domain":[-0.94,4.71],"nice":false,"zero":false}},"text":{"value":"SMA-1 (1978)"}}},
 {"data":{"values":[{}]},"mark":{"type":"text","baseline":"top","lineHeight":13},"encoding":{"x":{"datum":2.5,"type":"quantitative","scale":{"type":"log","domain":[0.286,13.9],"nice":false}},"y":{"datum":4.137,"type":"quantitative","scale":{"domain":[-0.94,4.71],"nice":false,"zero":false}},"text":{"value":["Strong motion (Test)","Station: Helal Ahmar","Ms: 7.4","f0: 1.28","A0: 2.15"]}}}
]}
]
}
